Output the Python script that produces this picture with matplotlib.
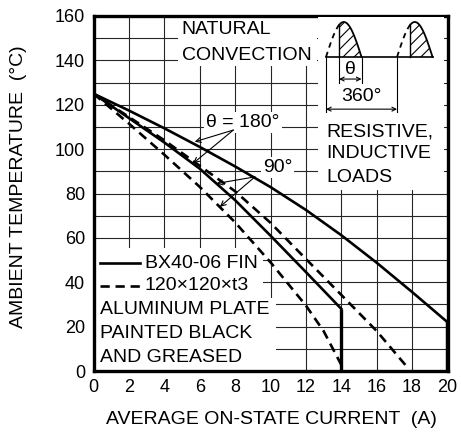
import numpy as np
import matplotlib
matplotlib.use("Agg")
import matplotlib.pyplot as plt
from matplotlib.patches import Rectangle

plt.rcParams['font.family'] = ['Liberation Sans', 'DejaVu Sans']
plt.rcParams['hatch.linewidth'] = 0.8

# derating curves, ambient temperature (degC) vs average on-state current (A)
fin_180_i = [0, 2, 4, 6, 8, 10, 12, 14, 16, 18, 20]
fin_180_t = [125, 117.4, 109.4, 101, 92.2, 82.9, 72.6, 61.2, 48.8, 35.6, 22]
fin_90_i = [0, 2, 4, 6, 8, 10, 12, 14]
fin_90_t = [125, 114, 103, 91.2, 77, 61, 44.6, 28]
plate_180_i = [0, 2, 4, 6, 8, 10, 12, 14, 16, 17.75]
plate_180_t = [125, 114.5, 104, 92.5, 81, 66.8, 50.5, 34.3, 18, 1.5]
plate_90_i = [0, 2, 4, 6, 8, 10, 12, 13, 14.05]
plate_90_t = [125, 111.5, 97.5, 83, 67, 49, 29.5, 18, 2]

x_ticks = list(range(0, 21, 2))
y_ticks = list(range(0, 161, 20))

W, H = 461, 441
fig = plt.figure(figsize=(W / 100, H / 100), dpi=100)
ax = fig.add_axes([93.5 / W, 1 - 371 / H, 354 / W, 355 / H])
ax.set_xlim(0, 20)
ax.set_ylim(0, 160)
ax.set_xticks(x_ticks)
ax.set_yticks(y_ticks)
ax.set_yticks(range(10, 160, 20), minor=True)
ax.set_axisbelow(True)
ax.grid(which='both', color='0.15', lw=0.8)
ax.tick_params(which='both', length=0, labelsize=13, pad=6)
for s in ax.spines.values():
    s.set_linewidth(2.4)

# white panels under the text blocks
for (x0, y0, w, h) in [(4.8, 137.5, 7.8, 22.5), (0, 33, 9.6, 22.5), (0, 0, 10.3, 33)]:
    ax.add_patch(Rectangle((x0, y0), w, h, fc='white', ec='none', zorder=1.5))

lw = 1.9
dash = (0, (3.5, 2.2))
ax.plot(fin_180_i, fin_180_t, color='k', lw=lw, zorder=3)
ax.vlines(fin_180_i[-1], 0, fin_180_t[-1], color='k', lw=3.2, zorder=3)
ax.plot(fin_90_i, fin_90_t, color='k', lw=lw, zorder=3)
ax.vlines(fin_90_i[-1], 0, fin_90_t[-1], color='k', lw=2.4, zorder=3)
ax.plot(plate_180_i, plate_180_t, color='k', lw=lw, ls=dash,
        dash_capstyle='butt', zorder=3)
ax.plot(plate_90_i, plate_90_t, color='k', lw=lw, ls=dash,
        dash_capstyle='butt', zorder=3)

fs = 14
ax.text(4.99, 154.1, 'NATURAL', fontsize=fs, va='center', zorder=4)
ax.text(4.99, 142.1, 'CONVECTION', fontsize=fs, va='center', zorder=4)

box = dict(fc='white', ec='none', pad=1.5)
ax.text(8.45, 111.9, 'θ = 180°', fontsize=fs, ha='center', va='center',
        bbox=box, zorder=4)
ax.text(10.4, 91.7, '90°', fontsize=fs, ha='center', va='center',
        bbox=box, zorder=4)

arw = dict(arrowstyle='->', lw=0.8, color='k', shrinkA=0, shrinkB=0,
           mutation_scale=9)
ax.annotate('', xy=(5.72, 103.3), xytext=(7.9, 108.6), arrowprops=arw, zorder=4)
ax.annotate('', xy=(5.63, 93.6), xytext=(7.9, 108.6), arrowprops=arw, zorder=4)
ax.annotate('', xy=(6.95, 84.5), xytext=(9.12, 87.5), arrowprops=arw, zorder=4)
ax.annotate('', xy=(7.14, 74), xytext=(9.12, 87.5), arrowprops=arw, zorder=4)

# legend drawn by hand
ax.plot([0.34, 2.6], [48.5, 48.5], color='k', lw=lw, zorder=4)
ax.plot([0.34, 2.6], [38.4, 38.4], color='k', lw=lw, ls=dash,
        dash_capstyle='butt', zorder=4)
ax.text(2.9, 48.5, 'BX40-06 FIN', fontsize=fs, va='center', zorder=4)
ax.text(2.9, 38.4, '120×120×t3', fontsize=fs, va='center', zorder=4)
for yy, s in [(27.5, 'ALUMINUM PLATE'), (17.0, 'PAINTED BLACK'), (6.3, 'AND GREASED')]:
    ax.text(0.34, yy, s, fontsize=fs, va='center', zorder=4)

# conduction-angle waveform, units: degrees across, peak = 1
ins = fig.add_axes([318 / W, 1 - 190 / H, 126 / W, 173 / H])
ins.set_xlim(-40.6, 598)
ins.set_ylim(-3.8, 1.143)
ins.set_xticks([])
ins.set_yticks([])
for s in ins.spines.values():
    s.set_visible(False)
ins.set_facecolor('white')

start = 66
ins.plot([0, 543], [0, 0], color='k', lw=1.2)
for off in (0, 360):
    a = np.linspace(0, start, 30)
    ins.plot(a + off, np.sin(np.radians(a)), color='k', lw=1.3,
             ls=(0, (3, 2.5)))
    b = np.linspace(start, 180, 60)
    ins.fill_between(b + off, 0, np.sin(np.radians(b)), facecolor='white',
                     edgecolor='k', hatch='///', linewidth=0)
    ins.plot(b + off, np.sin(np.radians(b)), color='k', lw=1.3)
    ins.plot([start + off] * 2, [0, np.sin(np.radians(start))], color='k', lw=1.0)

ins.plot([0, 0], [0, -1.57], color='k', lw=0.8)
ins.plot([360, 360], [0, -1.57], color='k', lw=0.8)
ins.plot([start, start], [0, -0.74], color='k', lw=0.8)
ins.plot([180, 180], [0, -0.74], color='k', lw=0.8)
darw = dict(arrowstyle='<->', lw=0.8, color='k', shrinkA=0, shrinkB=0,
            mutation_scale=7)
ins.annotate('', xy=(start, -0.63), xytext=(180, -0.63), arrowprops=darw)
ins.annotate('', xy=(0, -1.49), xytext=(360, -1.49), arrowprops=darw)
ins.text((start + 180) / 2, -0.37, 'θ', fontsize=fs, ha='center', va='center')
ins.text(180, -1.14, '360°', fontsize=fs, ha='center', va='center')
for yy, s in [(-2.14, 'RESISTIVE,'), (-2.77, 'INDUCTIVE'), (-3.43, 'LOADS')]:
    ins.text(3, yy, s, fontsize=fs, va='center')

fig.text(271 / W, 1 - 420 / H, 'AVERAGE ON-STATE CURRENT  (A)', fontsize=fs,
         ha='center', va='center')
fig.text(19 / W, 1 - 187 / H, 'AMBIENT TEMPERATURE  (°C)', fontsize=fs,
         ha='center', va='center', rotation=90)

fig.savefig('out.png', dpi=100)
